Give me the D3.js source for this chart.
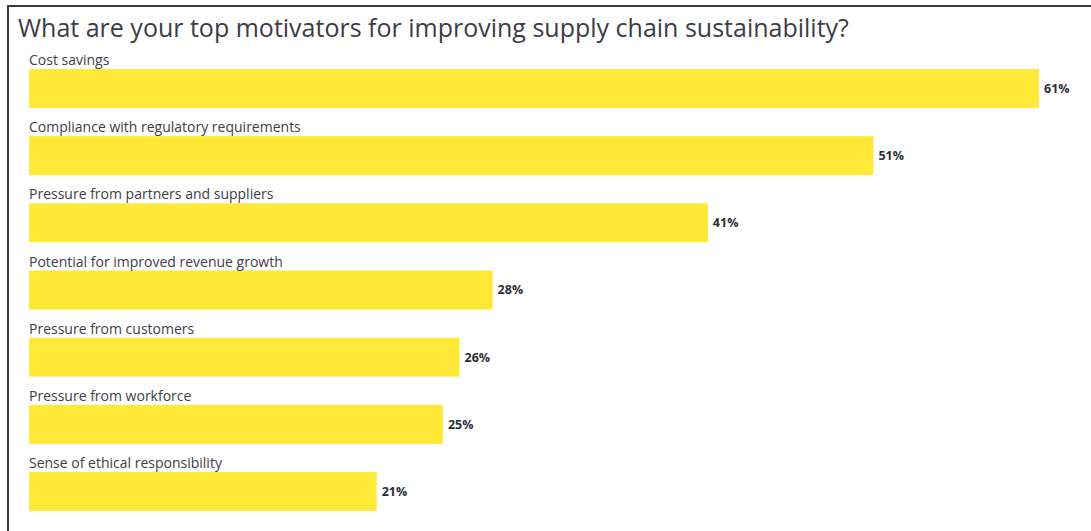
<!DOCTYPE html>
<html>
<head>
<meta charset="utf-8">
<script src="https://cdn.jsdelivr.net/npm/d3@7"></script>
<style>
  body { margin: 0; background: #fff; }
  svg { display: block; font-family: "Open Sans", "Noto Sans", sans-serif; }
</style>
</head>
<body>
<div id="chart"></div>
<script>
const title = "What are your top motivators for improving supply chain sustainability?";
const categories = [
  "Cost savings",
  "Compliance with regulatory requirements",
  "Pressure from partners and suppliers",
  "Potential for improved revenue growth",
  "Pressure from customers",
  "Pressure from workforce",
  "Sense of ethical responsibility"
];
const values = [61, 51, 41, 28, 26, 25, 21];

const width = 1091, height = 531;
const svg = d3.select("#chart").append("svg")
  .attr("width", width)
  .attr("height", height);

// frame (top and left edges visible)
svg.append("path")
  .attr("d", `M8,${height} V6 H${width}`)
  .attr("fill", "none")
  .attr("stroke", "#3a3a3a")
  .attr("stroke-width", 2);

svg.append("text")
  .attr("x", 18)
  .attr("y", 37)
  .attr("font-size", 25)
  .attr("fill", "#3c3c46")
  .text(title);

const x = d3.scaleLinear()
  .domain([0, 61])
  .range([29, 1039]);

const y = d3.scaleBand()
  .domain(categories)
  .range([69, 511])
  .paddingInner(0.42)
  .paddingOuter(0);

const rows = svg.append("g")
  .selectAll("g")
  .data(categories.map((c, i) => ({ name: c, value: values[i] })))
  .enter()
  .append("g");

rows.append("rect")
  .attr("x", x(0))
  .attr("y", d => y(d.name))
  .attr("width", d => x(d.value) - x(0))
  .attr("height", y.bandwidth())
  .attr("fill", "#ffe936");

rows.append("text")
  .attr("x", x(0))
  .attr("y", d => y(d.name) - 4)
  .attr("font-size", 14)
  .attr("fill", "#404048")
  .text(d => d.name);

rows.append("text")
  .attr("x", d => x(d.value) + 5)
  .attr("y", d => y(d.name) + y.bandwidth() / 2)
  .attr("dy", "0.35em")
  .attr("font-size", 12.5)
  .attr("font-weight", "bold")
  .attr("fill", "#2e2e38")
  .text(d => d.value + "%");
</script>
</body>
</html>
